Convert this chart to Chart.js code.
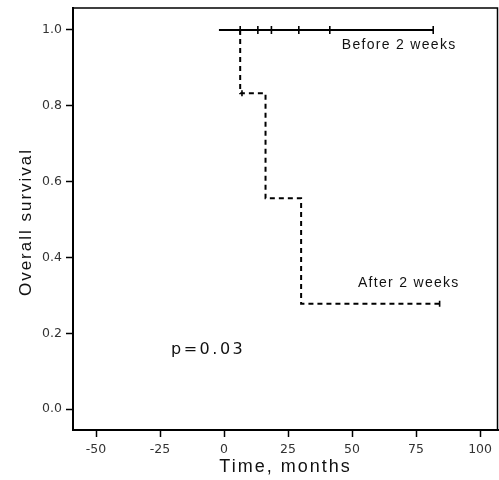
<!DOCTYPE html>
<html>
<head>
<meta charset="utf-8">
<title>Overall survival</title>
<script src="https://cdn.jsdelivr.net/npm/chart.js@4.4.0/dist/chart.umd.min.js"></script>
<style>
body { margin: 0; background: #fff; }
</style>
</head>
<body>
<canvas id="myChart" width="499" height="480"></canvas>
<script>
// values
const beforeTimes = [-2, 81.7];
const beforeSurv = [1.0, 1.0];
const beforeCensorTimes = [6.3, 13.2, 18.5, 29.2, 41.3, 81.7];

const afterTimes = [6.3, 6.3, 16.2, 30.1, 84.2];
const afterSurv = [1.0, 0.833, 0.556, 0.278, 0.278];
const afterCensorTimes = [7.0, 84.2];
const afterCensorSurv = [0.833, 0.278];

const xTicks = [-50, -25, 0, 25, 50, 75, 100];
const yTicks = [0.0, 0.2, 0.4, 0.6, 0.8, 1.0];

const groupNames = ['Before 2 weeks', 'After 2 weeks'];
const pValue = 'p=0.03';
const xTitle = 'Time, months';
const yTitle = 'Overall survival';

function toPoints(xs, ys) {
    return xs.map((x, i) => ({x: x, y: ys[i]}));
}

function spacedText(ctx, text, x, y, font, spacing) {
    ctx.font = font;
    ctx.letterSpacing = spacing + 'px';
    ctx.fillText(text, x, y);
    ctx.letterSpacing = '0px';
}

// frame on top/right plus the free text labels
const extras = {
    id: 'extras',
    afterDraw(chart) {
        const ctx = chart.ctx;
        const area = chart.chartArea;
        const xs = chart.scales.x;
        const ys = chart.scales.y;
        ctx.save();
        ctx.strokeStyle = '#000';
        ctx.lineWidth = 1.5;
        ctx.beginPath();
        ctx.moveTo(area.left, area.top);
        ctx.lineTo(area.right - 0.5, area.top);
        ctx.lineTo(area.right - 0.5, area.bottom);
        ctx.stroke();

        ctx.fillStyle = '#111';
        ctx.textBaseline = 'middle';
        ctx.textAlign = 'left';
        spacedText(ctx, groupNames[0], xs.getPixelForValue(46), ys.getPixelForValue(0.96), '14px "Liberation Sans"', 1.3);
        spacedText(ctx, groupNames[1], xs.getPixelForValue(52.3), ys.getPixelForValue(0.332), '14px "Liberation Sans"', 1.3);
        spacedText(ctx, pValue, xs.getPixelForValue(-20.7), ys.getPixelForValue(0.156), '16px "DejaVu Sans"', 2.5);

        ctx.textAlign = 'center';
        spacedText(ctx, xTitle, (area.left + area.right) / 2, 467, '18px "Liberation Sans"', 2);
        ctx.translate(26, 222);
        ctx.rotate(-Math.PI / 2);
        spacedText(ctx, yTitle, 0, 0, '17px "Liberation Sans"', 2);
        ctx.restore();
    }
};

const chartData = {
    datasets: [
        {
            data: toPoints(afterTimes, afterSurv),
            borderColor: '#000',
            borderWidth: 2,
            borderDash: [5, 4],
            stepped: true,
            showLine: true,
            pointRadius: 0
        },
        {
            data: toPoints(beforeTimes, beforeSurv),
            borderColor: '#000',
            borderWidth: 1.8,
            showLine: true,
            pointRadius: 0
        },
        {
            data: beforeCensorTimes.map(t => ({x: t, y: beforeSurv[0]})),
            showLine: false,
            pointStyle: 'line',
            rotation: 90,
            pointRadius: 4,
            borderColor: '#000',
            borderWidth: 1.6
        },
        {
            data: toPoints(afterCensorTimes, afterCensorSurv),
            showLine: false,
            pointStyle: 'line',
            rotation: 90,
            pointRadius: 3,
            borderColor: '#000',
            borderWidth: 1.6
        }
    ]
};

const config = {
    type: 'scatter',
    data: chartData,
    options: {
        responsive: false,
        animation: false,
        devicePixelRatio: 1,
        layout: {autoPadding: false, padding: {top: 8, right: 1, left: 0, bottom: 0}},
        plugins: {
            legend: {display: false},
            tooltip: {enabled: false}
        },
        scales: {
            x: {
                type: 'linear',
                min: -59,
                max: 107,
                afterBuildTicks: s => { s.ticks = xTicks.map(v => ({value: v})); },
                afterFit: s => { s.height = 50; s.paddingLeft = 0; s.paddingRight = 0; },
                grid: {drawOnChartArea: false, drawTicks: true, tickLength: 7, tickColor: '#000', tickWidth: 1.5},
                border: {display: true, color: '#000', width: 2},
                ticks: {
                    color: '#333',
                    padding: 5,
                    maxRotation: 0,
                    font: {family: 'DejaVu Sans', size: 12.5},
                    callback: v => String(v)
                }
            },
            y: {
                type: 'linear',
                min: -0.055,
                max: 1.058,
                afterBuildTicks: s => { s.ticks = yTicks.map(v => ({value: v})); },
                afterFit: s => { s.width = 73; s.paddingTop = 0; s.paddingBottom = 0; },
                grid: {drawOnChartArea: false, drawTicks: true, tickLength: 7, tickColor: '#000', tickWidth: 1.5},
                border: {display: true, color: '#000', width: 2},
                ticks: {
                    color: '#333',
                    padding: 4,
                    font: {family: 'DejaVu Sans', size: 12.5},
                    callback: v => v.toFixed(1)
                }
            }
        }
    },
    plugins: [extras]
};

new Chart(document.getElementById('myChart'), config);
</script>
</body>
</html>
